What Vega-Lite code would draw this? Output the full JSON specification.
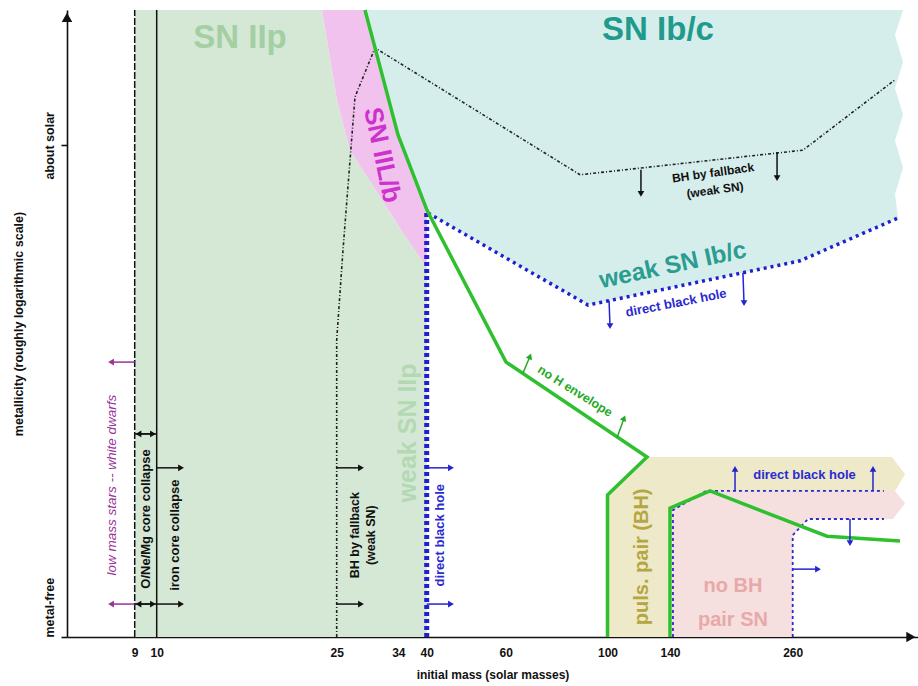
{
  "$schema": "https://vega.github.io/schema/vega-lite/v6.json",
  "width": 851,
  "height": 627,
  "autosize": {"type": "none"},
  "padding": {"left": 67, "top": 10, "right": 0, "bottom": 49},
  "background": "white",
  "config": {
    "view": {"stroke": null},
    "font": "Liberation Sans",
    "axis": {
      "labelFont": "Liberation Sans", "titleFont": "Liberation Sans",
      "labelFontWeight": "bold", "titleFontWeight": "bold",
      "domainColor": "#111", "tickColor": "#111", "labelColor": "#111", "titleColor": "#111",
      "grid": false, "domainWidth": 1.6, "tickWidth": 1.6
    }
  },
  "datasets": {
    "green": [
      {"o": 1, "m": 9, "z": 0}, {"o": 2, "m": 9, "z": 12.75}, {"o": 3, "m": 23.78, "z": 12.75},
      {"o": 4, "m": 25.04, "z": 10.92}, {"o": 5, "m": 26.94, "z": 9.9}, {"o": 6, "m": 31.62, "z": 8.89},
      {"o": 7, "m": 34.99, "z": 8.22}, {"o": 8, "m": 39.64, "z": 7.57}, {"o": 9, "m": 40, "z": 7.57},
      {"o": 10, "m": 40, "z": 0}
    ],
    "pink": [
      {"o": 1, "m": 23.78, "z": 12.75}, {"o": 2, "m": 29.13, "z": 12.75}, {"o": 3, "m": 30.6, "z": 11.98},
      {"o": 4, "m": 33.96, "z": 10.21}, {"o": 5, "m": 40.06, "z": 8.68}, {"o": 6, "m": 40, "z": 7.57},
      {"o": 7, "m": 39.64, "z": 7.57}, {"o": 8, "m": 34.99, "z": 8.22}, {"o": 9, "m": 31.62, "z": 8.89},
      {"o": 10, "m": 26.94, "z": 9.9}, {"o": 11, "m": 25.04, "z": 10.92}
    ],
    "teal": [
      {"o": 1, "m": 29.13, "z": 12.75}, {"o": 2, "m": 383.3, "z": 12.75}, {"o": 3, "m": 374.3, "z": 12.24},
      {"o": 4, "m": 383.3, "z": 11.69}, {"o": 5, "m": 374.3, "z": 11.16}, {"o": 6, "m": 383.3, "z": 10.62},
      {"o": 7, "m": 374.3, "z": 10.09}, {"o": 8, "m": 383.3, "z": 9.54}, {"o": 9, "m": 374.3, "z": 9.01},
      {"o": 10, "m": 377.7, "z": 8.52}, {"o": 11, "m": 268.2, "z": 7.65}, {"o": 12, "m": 92.33, "z": 6.75},
      {"o": 13, "m": 40.33, "z": 8.62}, {"o": 14, "m": 40.06, "z": 8.68}, {"o": 15, "m": 33.96, "z": 10.21},
      {"o": 16, "m": 30.6, "z": 11.98}
    ],
    "yellow": [
      {"o": 1, "m": 100, "z": 0}, {"o": 2, "m": 100, "z": 2.89}, {"o": 3, "m": 125.28, "z": 3.66},
      {"o": 4, "m": 370.9, "z": 3.66}, {"o": 5, "m": 385.5, "z": 3.31}, {"o": 6, "m": 374.3, "z": 2.97},
      {"o": 7, "m": 175.2, "z": 2.97}, {"o": 8, "m": 142, "z": 2.6}, {"o": 9, "m": 140, "z": 0}
    ],
    "pinkbh": [
      {"o": 1, "m": 141.96, "z": 0}, {"o": 2, "m": 141.96, "z": 2.58}, {"o": 3, "m": 175.2, "z": 2.97},
      {"o": 4, "m": 374.3, "z": 2.97}, {"o": 5, "m": 385.5, "z": 2.72}, {"o": 6, "m": 372.1, "z": 2.4},
      {"o": 7, "m": 277.1, "z": 2.4}, {"o": 8, "m": 260, "z": 2.07}, {"o": 9, "m": 260, "z": 0}
    ],
    "vlines": [
      {"k": "d", "m": 9, "z": 0, "z0": 12.75},
      {"k": "s", "m": 10, "z": 0, "z0": 12.75}
    ],
    "fallback": [
      {"o": 1, "m": 25, "z": 0}, {"o": 2, "m": 25, "z": 6.04}, {"o": 3, "m": 25.92, "z": 7.87},
      {"o": 4, "m": 27.67, "z": 10.98}, {"o": 5, "m": 30.6, "z": 11.98}, {"o": 6, "m": 89.19, "z": 9.4},
      {"o": 7, "m": 271.5, "z": 9.9}, {"o": 8, "m": 374.3, "z": 11.33}
    ],
    "bluevert": [
      {"o": 1, "m": 40, "z": 0}, {"o": 2, "m": 40, "z": 8.62}
    ],
    "blueweak": [
      {"o": 1, "m": 40.33, "z": 8.62}, {"o": 2, "m": 92.33, "z": 6.75}, {"o": 3, "m": 268.2, "z": 7.65},
      {"o": 4, "m": 377.7, "z": 8.52}
    ],
    "bluethin": [
      {"k": "a", "o": 1, "m": 142.93, "z": 0}, {"k": "a", "o": 2, "m": 142.93, "z": 2.58},
      {"k": "a", "o": 3, "m": 175.2, "z": 2.97}, {"k": "a", "o": 4, "m": 361.9, "z": 2.97},
      {"k": "b", "o": 1, "m": 260, "z": 0}, {"k": "b", "o": 2, "m": 260, "z": 2.07},
      {"k": "b", "o": 3, "m": 277.1, "z": 2.4}, {"k": "b", "o": 4, "m": 361.9, "z": 2.4}
    ],
    "gline": [
      {"k": "a", "o": 1, "m": 29.13, "z": 12.75}, {"k": "a", "o": 2, "m": 30.6, "z": 11.98},
      {"k": "a", "o": 3, "m": 33.96, "z": 10.21}, {"k": "a", "o": 4, "m": 40.06, "z": 8.68},
      {"k": "a", "o": 5, "m": 60.12, "z": 5.59}, {"k": "a", "o": 6, "m": 125.28, "z": 3.66},
      {"k": "a", "o": 7, "m": 100, "z": 2.89}, {"k": "a", "o": 8, "m": 100, "z": 0},
      {"k": "b", "o": 1, "m": 140, "z": 0}, {"k": "b", "o": 2, "m": 140, "z": 2.62},
      {"k": "b", "o": 3, "m": 179.1, "z": 2.97}, {"k": "b", "o": 4, "m": 298.3, "z": 2.05},
      {"k": "b", "o": 5, "m": 379.9, "z": 1.95}
    ],
    "arrows": [
      {"c": "k", "d": "r", "m0": 25, "z0": 3.44, "m": 28.55, "z": 3.44},
      {"c": "k", "d": "r", "m0": 25, "z0": 0.67, "m": 28.55, "z": 0.67},
      {"c": "k", "d": "r", "m0": 10.02, "z0": 3.44, "m": 12.03, "z": 3.44},
      {"c": "k", "d": "r", "m0": 10.02, "z0": 0.67, "m": 12.03, "z": 0.67},
      {"c": "k", "d": "r", "m0": 9, "z0": 4.13, "m": 9.83, "z": 4.13},
      {"c": "k", "d": "l", "m0": 10, "z0": 4.13, "m": 9.17, "z": 4.13},
      {"c": "k", "d": "r", "m0": 9, "z0": 0.67, "m": 9.83, "z": 0.67},
      {"c": "k", "d": "l", "m0": 10, "z0": 0.67, "m": 9.17, "z": 0.67},
      {"c": "k", "d": "d", "m0": 121.4, "z0": 9.5, "m": 121.4, "z": 9.01},
      {"c": "k", "d": "d", "m0": 244.7, "z0": 9.86, "m": 244.7, "z": 9.33},
      {"c": "p", "d": "l", "m0": 9, "z0": 5.59, "m": 7.6, "z": 5.59},
      {"c": "p", "d": "l", "m0": 9, "z0": 0.67, "m": 7.6, "z": 0.67},
      {"c": "b", "d": "r", "m0": 40, "z0": 3.44, "m": 46.15, "z": 3.44},
      {"c": "b", "d": "r", "m0": 40, "z0": 0.67, "m": 46.15, "z": 0.67},
      {"c": "b", "d": "r", "m0": 260, "z0": 1.38, "m": 288.3, "z": 1.38},
      {"c": "b", "d": "d", "m0": 101, "z0": 6.84, "m": 101.6, "z": 6.32},
      {"c": "b", "d": "d", "m0": 211.3, "z0": 7.41, "m": 212.4, "z": 6.79},
      {"c": "b", "d": "d", "m0": 324, "z0": 2.4, "m": 324, "z": 1.91},
      {"c": "b", "d": "u", "m0": 203.6, "z0": 2.97, "m": 203.6, "z": 3.42},
      {"c": "b", "d": "u", "m0": 349.7, "z0": 2.97, "m": 349.7, "z": 3.42},
      {"c": "g", "d": "t", "m0": 66.8, "z0": 5.37, "m": 69.55, "z": 5.71},
      {"c": "g", "d": "t", "m0": 106.08, "z0": 4.05, "m": 110.6, "z": 4.45}
    ],
    "labels": [
      {"k": "snIIp", "t": "SN IIp", "m": 16.94, "z": 12.18},
      {"k": "snIbc", "t": "SN Ib/c", "m": 132.3, "z": 12.34},
      {"k": "snIILb", "t": "SN IIL/b", "m": 31.62, "z": 9.8},
      {"k": "weakIIp", "t": "weak SN IIp", "m": 36.05, "z": 4.15},
      {"k": "weakIbc", "t": "weak SN Ib/c", "m": 142.9, "z": 7.55},
      {"k": "puls", "t": "puls. pair (BH)", "m": 122.1, "z": 1.63},
      {"k": "pairsn", "t": "no BH", "m": 201.6, "z": 1.04},
      {"k": "pairsn", "t": "pair SN", "m": 201.6, "z": 0.35},
      {"k": "dbhH", "t": "direct black hole", "m": 273.2, "z": 3.29},
      {"k": "dbhT", "t": "direct black hole", "m": 145.9, "z": 6.79},
      {"k": "dbhV", "t": "direct black hole", "m": 43.37, "z": 2.07},
      {"k": "bhfV", "t": "BH by fallback", "m": 27.67, "z": 2.07},
      {"k": "bhfV", "t": "(weak SN)", "m": 30.01, "z": 2.07},
      {"k": "bhfT", "t": "BH by fallback", "m": 182.1, "z": 9.44},
      {"k": "bhfT", "t": "(weak SN)", "m": 184.0, "z": 9.09},
      {"k": "noH", "t": "no H envelope", "m": 87.23, "z": 5.0},
      {"k": "low", "t": "low mass stars -- white dwarfs", "m": 7.64, "z": 3.09},
      {"k": "vblack", "t": "O/Ne/Mg core collapse", "m": 9.51, "z": 2.4},
      {"k": "vblack", "t": "iron core collapse", "m": 11.53, "z": 2.07}
    ],
    "axarrows": [
      {"k": "up", "m": 5, "z": 12.6},
      {"k": "right", "m": 392, "z": 0}
    ]
  },
  "encoding": {
    "x": {
      "field": "m", "type": "quantitative",
      "scale": {
        "type": "linear", "nice": false, "zero": false,
        "domain": [5, 9, 10, 25, 34, 40, 60, 100, 140, 260, 400],
        "range": [0, 67.7, 89.7, 269.7, 331.3, 359.7, 438.7, 540.5, 603, 725.7, 851]
      },
      "axis": {
        "values": [9, 10, 25, 34, 40, 60, 100, 140, 260],
        "title": "initial mass (solar masses)",
        "ticks": false, "tickSize": 0, "labelPadding": 10, "labelFontSize": 12,
        "labelOverlap": false, "labelFlush": false, "titleFontSize": 12, "titlePadding": 11
      }
    },
    "y": {
      "field": "z", "type": "quantitative",
      "scale": {"domain": [0, 12.75], "nice": false, "zero": false},
      "axis": {
        "values": [0, 10],
        "labelExpr": "datum.value == 0 ? 'metal-free' : 'about solar'",
        "labelAngle": 270,
        "labelAlign": {"condition": {"test": "datum.value == 0", "value": "left"}, "value": "center"},
        "labelBaseline": "bottom",
        "labelFontSize": 12.5, "tickSize": 6, "labelPadding": 5,
        "title": "metallicity (roughly logarithmic scale)", "titleFontSize": 12.5, "titlePadding": 18
      }
    }
  },
  "layer": [
    {"data": {"name": "green"}, "mark": {"type": "line", "fill": "#d5e7d5", "strokeOpacity": 0}, "encoding": {"order": {"field": "o", "type": "quantitative"}}},
    {"data": {"name": "teal"}, "mark": {"type": "line", "fill": "#d5eeec", "strokeOpacity": 0}, "encoding": {"order": {"field": "o", "type": "quantitative"}}},
    {"data": {"name": "pink"}, "mark": {"type": "line", "fill": "#f2c2ee", "strokeOpacity": 0}, "encoding": {"order": {"field": "o", "type": "quantitative"}}},
    {"data": {"name": "yellow"}, "mark": {"type": "line", "fill": "#eee9c9", "strokeOpacity": 0}, "encoding": {"order": {"field": "o", "type": "quantitative"}}},
    {"data": {"name": "pinkbh"}, "mark": {"type": "line", "fill": "#f5dfdf", "strokeOpacity": 0}, "encoding": {"order": {"field": "o", "type": "quantitative"}}},
    {"data": {"name": "vlines"}, "transform": [{"filter": "datum.k == 'd'"}], "mark": {"type": "rule", "color": "#111", "strokeWidth": 1.5, "strokeDash": [7, 2]}, "encoding": {"y2": {"field": "z0"}}},
    {"data": {"name": "vlines"}, "transform": [{"filter": "datum.k == 's'"}], "mark": {"type": "rule", "color": "#111", "strokeWidth": 1.5}, "encoding": {"y2": {"field": "z0"}}},
    {"data": {"name": "fallback"}, "mark": {"type": "line", "color": "#222", "strokeWidth": 1.6, "strokeDash": [3, 2, 1, 2]}, "encoding": {"order": {"field": "o", "type": "quantitative"}}},
    {"data": {"name": "bluevert"}, "mark": {"type": "line", "color": "#1f1fcf", "strokeWidth": 5, "strokeDash": [4, 3]}, "encoding": {"order": {"field": "o", "type": "quantitative"}}},
    {"data": {"name": "blueweak"}, "mark": {"type": "line", "color": "#1f1fcf", "strokeWidth": 3.5, "strokeDash": [3, 4]}, "encoding": {"order": {"field": "o", "type": "quantitative"}}},
    {"data": {"name": "bluethin"}, "mark": {"type": "line", "color": "#2a2ad0", "strokeWidth": 1.8, "strokeDash": [3, 3]}, "encoding": {"detail": {"field": "k"}, "order": {"field": "o", "type": "quantitative"}}},
    {"data": {"name": "gline"}, "mark": {"type": "line", "color": "#2ec02e", "strokeWidth": 3.5, "strokeJoin": "miter"}, "encoding": {"detail": {"field": "k"}, "order": {"field": "o", "type": "quantitative"}}},
    {"data": {"name": "arrows"}, "mark": {"type": "rule", "strokeWidth": 1.5}, "encoding": {
      "x2": {"field": "m0"}, "y2": {"field": "z0"},
      "color": {"field": "c", "type": "nominal", "scale": {"domain": ["k", "p", "b", "g"], "range": ["#111111", "#993399", "#2525d0", "#22aa22"]}, "legend": null}}},
    {"data": {"name": "arrows"}, "transform": [{"filter": "datum.d != 't'"}], "mark": {"type": "point", "filled": true, "size": 45, "opacity": 1}, "encoding": {
      "shape": {"field": "d", "type": "nominal", "scale": {"domain": ["r", "l", "u", "d"], "range": ["triangle-right", "triangle-left", "triangle-up", "triangle-down"]}, "legend": null},
      "color": {"field": "c", "type": "nominal", "legend": null}}},
    {"data": {"name": "arrows"}, "transform": [{"filter": "datum.d == 't'"}], "mark": {"type": "point", "filled": true, "size": 45, "opacity": 1, "shape": "triangle-up", "angle": 22, "color": "#22aa22"}},
    {"data": {"name": "labels"}, "transform": [{"filter": "datum.k == 'snIIp'"}], "mark": {"type": "text", "fontSize": 33, "fontWeight": "bold", "color": "#a3cfa3"}, "encoding": {"text": {"field": "t"}}},
    {"data": {"name": "labels"}, "transform": [{"filter": "datum.k == 'snIbc'"}], "mark": {"type": "text", "fontSize": 33, "fontWeight": "bold", "color": "#1f9a8c"}, "encoding": {"text": {"field": "t"}}},
    {"data": {"name": "labels"}, "transform": [{"filter": "datum.k == 'snIILb'"}], "mark": {"type": "text", "fontSize": 26, "fontWeight": "bold", "color": "#cc33cc", "angle": 78}, "encoding": {"text": {"field": "t"}}},
    {"data": {"name": "labels"}, "transform": [{"filter": "datum.k == 'weakIIp'"}], "mark": {"type": "text", "fontSize": 25, "fontWeight": "bold", "color": "#b3d9b3", "angle": 270}, "encoding": {"text": {"field": "t"}}},
    {"data": {"name": "labels"}, "transform": [{"filter": "datum.k == 'weakIbc'"}], "mark": {"type": "text", "fontSize": 24.5, "fontWeight": "bold", "color": "#2a9d90", "angle": 348}, "encoding": {"text": {"field": "t"}}},
    {"data": {"name": "labels"}, "transform": [{"filter": "datum.k == 'puls'"}], "mark": {"type": "text", "fontSize": 20, "fontWeight": "bold", "color": "#b5a642", "angle": 270}, "encoding": {"text": {"field": "t"}}},
    {"data": {"name": "labels"}, "transform": [{"filter": "datum.k == 'pairsn'"}], "mark": {"type": "text", "fontSize": 20, "fontWeight": "bold", "color": "#e8a9a9"}, "encoding": {"text": {"field": "t"}}},
    {"data": {"name": "labels"}, "transform": [{"filter": "datum.k == 'dbhH'"}], "mark": {"type": "text", "fontSize": 13, "fontWeight": "bold", "color": "#2b2bd0"}, "encoding": {"text": {"field": "t"}}},
    {"data": {"name": "labels"}, "transform": [{"filter": "datum.k == 'dbhT'"}], "mark": {"type": "text", "fontSize": 13, "fontWeight": "bold", "color": "#2b2bd0", "angle": 349}, "encoding": {"text": {"field": "t"}}},
    {"data": {"name": "labels"}, "transform": [{"filter": "datum.k == 'dbhV'"}], "mark": {"type": "text", "fontSize": 13, "fontWeight": "bold", "color": "#2b2bd0", "angle": 270}, "encoding": {"text": {"field": "t"}}},
    {"data": {"name": "labels"}, "transform": [{"filter": "datum.k == 'bhfV'"}], "mark": {"type": "text", "fontSize": 12.5, "fontWeight": "bold", "color": "#111", "angle": 270}, "encoding": {"text": {"field": "t"}}},
    {"data": {"name": "labels"}, "transform": [{"filter": "datum.k == 'bhfT'"}], "mark": {"type": "text", "fontSize": 12, "fontWeight": "bold", "color": "#111", "angle": 352}, "encoding": {"text": {"field": "t"}}},
    {"data": {"name": "labels"}, "transform": [{"filter": "datum.k == 'noH'"}], "mark": {"type": "text", "fontSize": 12.5, "fontWeight": "bold", "color": "#22aa22", "angle": 32}, "encoding": {"text": {"field": "t"}}},
    {"data": {"name": "labels"}, "transform": [{"filter": "datum.k == 'low'"}], "mark": {"type": "text", "fontSize": 13.5, "fontStyle": "italic", "color": "#993399", "angle": 270}, "encoding": {"text": {"field": "t"}}},
    {"data": {"name": "labels"}, "transform": [{"filter": "datum.k == 'vblack'"}], "mark": {"type": "text", "fontSize": 13, "fontWeight": "bold", "color": "#111", "angle": 270}, "encoding": {"text": {"field": "t"}}},
    {"data": {"name": "axarrows"}, "transform": [{"filter": "datum.k == 'up'"}], "mark": {"type": "point", "filled": true, "opacity": 1, "color": "#111", "shape": "triangle-up", "size": 110}},
    {"data": {"name": "axarrows"}, "transform": [{"filter": "datum.k == 'right'"}], "mark": {"type": "point", "filled": true, "opacity": 1, "color": "#111", "shape": "triangle-right", "size": 110}}
  ]
}
